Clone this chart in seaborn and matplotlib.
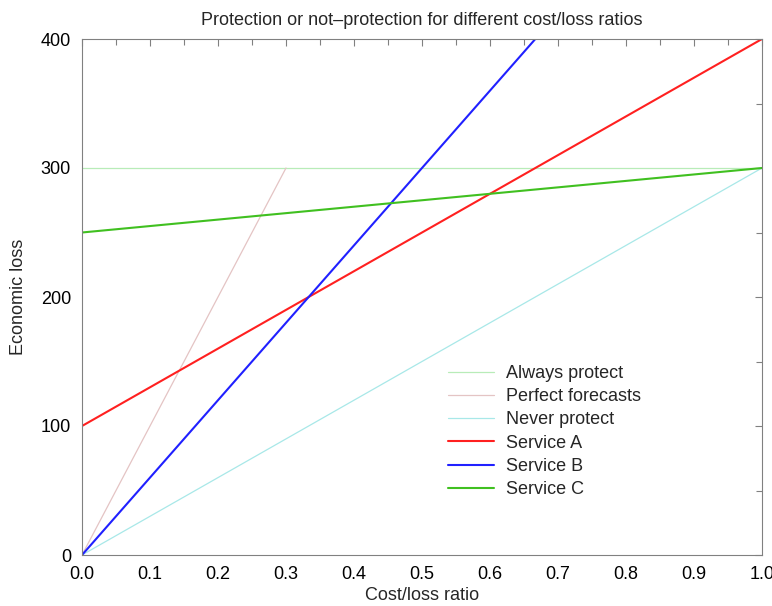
import numpy as np
import pandas as pd
import matplotlib
matplotlib.use("Agg")
import matplotlib.pyplot as plt
import seaborn as sns
from matplotlib.ticker import MultipleLocator

# cost/loss ratio endpoints
cost_loss = [0.0, 1.0]
always_protect = [300, 300]
never_protect = [0, 300]
service_a = [100, 400]
service_b = [0, 600]
service_c = [250, 300]

perfect_x = [0.0, 0.3]
perfect_y = [0, 300]

sns.set_theme(style="white")
plt.rcParams['font.family'] = ['Liberation Sans', 'DejaVu Sans']
plt.rcParams['font.size'] = 13

fig = plt.figure(figsize=(7.72, 6.06), dpi=100)
ax = fig.add_axes([82 / 772, 1 - 555 / 606, 680 / 772, 516 / 606])

series = [
    ("Always protect", cost_loss, always_protect, "#b8ecb8", 0.9),
    ("Perfect forecasts", perfect_x, perfect_y, "#e4c4c4", 0.9),
    ("Never protect", cost_loss, never_protect, "#a8e8e8", 0.9),
    ("Service A", cost_loss, service_a, "#ff2020", 1.5),
    ("Service B", cost_loss, service_b, "#2020ff", 1.5),
    ("Service C", cost_loss, service_c, "#40c020", 1.5),
]
for name, xs, ys, col, lw in series:
    df = pd.DataFrame({"x": xs, "y": ys})
    sns.lineplot(data=df, x="x", y="y", ax=ax, color=col, linewidth=lw, label=name)

ax.set_xlim(0, 1)
ax.set_ylim(0, 400)
ax.xaxis.set_major_locator(MultipleLocator(0.1))
ax.xaxis.set_minor_locator(MultipleLocator(0.05))
ax.yaxis.set_major_locator(MultipleLocator(100))
ax.yaxis.set_minor_locator(MultipleLocator(50))
ax.xaxis.set_major_formatter(matplotlib.ticker.FormatStrFormatter('%.1f'))
ax.tick_params(which='both', direction='in', top=True, right=True, colors='#808080',
               labelcolor='black', labelsize=13, width=0.8)
ax.tick_params(which='major', length=5)
ax.tick_params(which='minor', length=4)
ax.tick_params(axis='x', which='major', pad=8)
ax.tick_params(axis='y', which='major', pad=8)
for s in ax.spines.values():
    s.set_color('#808080')
    s.set_linewidth(0.8)

ax.set_title("Protection or not\u2013protection for different cost/loss ratios", fontsize=13, pad=10)
ax.set_xlabel("Cost/loss ratio", fontsize=13, labelpad=3)
ax.set_ylabel("Economic loss", fontsize=13, labelpad=10)

ax.legend(loc='upper left', bbox_to_anchor=(0.515, 0.4), frameon=False, fontsize=13,
          handlelength=2.5, handletextpad=0.7, labelspacing=0.35)

fig.savefig("out.png", dpi=100)
